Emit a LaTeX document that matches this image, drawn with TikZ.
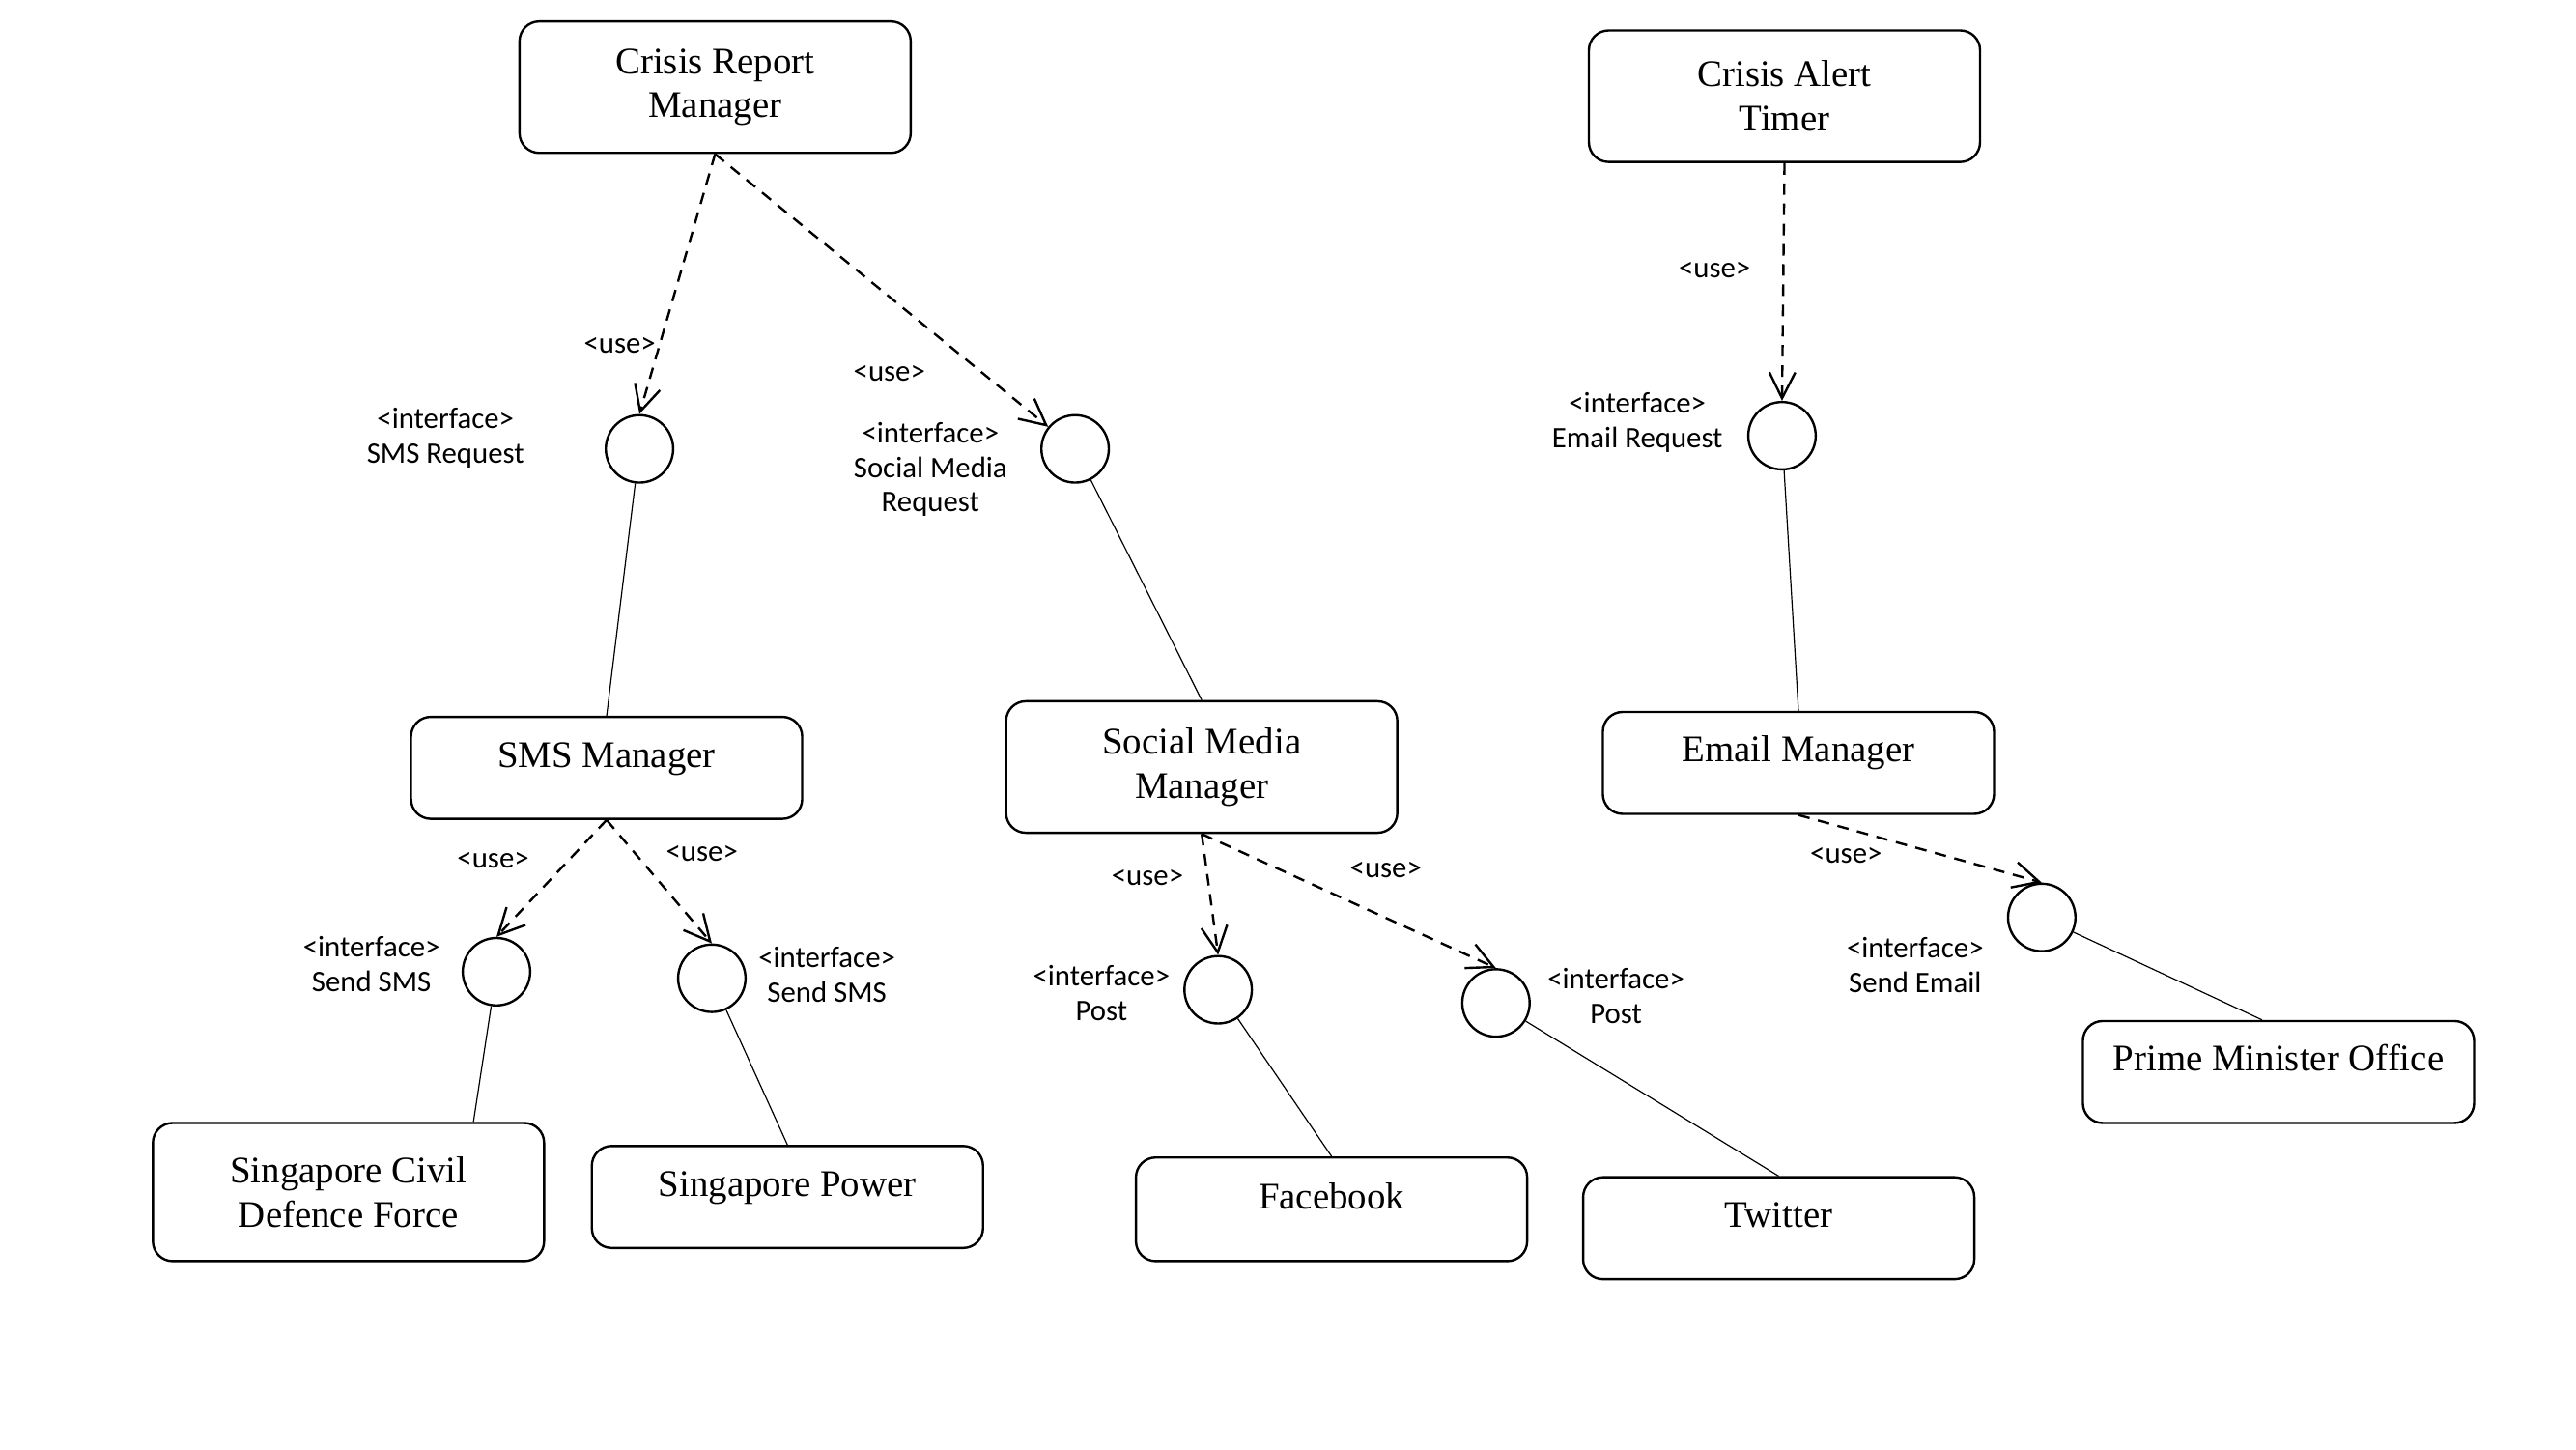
\documentclass[tikz,border=0pt]{standalone}
\usepackage{fontspec}
\setmainfont{Liberation Serif}
\newfontfamily\calfont{Carlito}
\usepackage{tikz}
\usetikzlibrary{arrows.meta,calc}

\begin{document}
\begin{tikzpicture}[x=0.02cm,y=-0.02cm,
    comp/.style={draw=black,line width=0.8pt,rounded corners=0.24cm,minimum width=4.76cm,align=center,font=\fontsize{13}{15.3}\selectfont},
    twoline/.style={comp,minimum height=1.6cm},
    oneline/.style={comp,minimum height=1.24cm,text height=9pt,text depth=9.5pt},
    iface/.style={draw=black,line width=0.8pt,circle,minimum size=0.82cm,inner sep=0pt},
    note/.style={align=center,inner sep=0pt,font=\calfont\fontsize{10.3}{12}\selectfont},
    usearrow/.style={-{Straight Barb[length=9pt,width=9pt]},dash pattern=on 4pt off 3pt,line width=0.8pt},
    conn/.style={line width=0.4pt}]
    \useasboundingbox (0,0) rectangle (1567,881.5);

    % components
    \node[twoline] (CRM) at (435,53) {Crisis Report\\Manager};
    \node[twoline] (CAT) at (1085.5,58.5) {Crisis Alert\\Timer};
    \node[oneline] (SMS) at (369,467) {SMS Manager};
    \node[twoline] (SMM) at (731,466.5) {Social Media\\Manager};
    \node[oneline] (EM) at (1094,464) {Email Manager};
    \node[comp,minimum height=1.68cm] (SCDF) at (212,725) {Singapore Civil\\Defence Force};
    \node[oneline] (SP) at (479,728) {Singapore Power};
    \node[oneline,minimum height=1.26cm] (FB) at (810,735.5) {Facebook};
    \node[oneline] (TW) at (1082,747) {Twitter};
    \node[oneline] (PMO) at (1386,652) {Prime Minister Office};

    % interfaces
    \node[iface] (I1) at (389,273) {};
    \node[iface] (I2) at (654,273) {};
    \node[iface] (I3) at (1084,265) {};
    \node[iface] (I4) at (302,591) {};
    \node[iface] (I5) at (433,595) {};
    \node[iface] (I6) at (741,602) {};
    \node[iface] (I7) at (910,610) {};
    \node[iface] (I8) at (1242,558) {};

    \node[note] (N1) at (271,266.5) {<interface>\\SMS Request};
    \node[note] (N2) at (566,285.5) {<interface>\\Social Media\\Request};
    \node[note] (N3) at (996,257) {<interface>\\Email Request};
    \node[note] (N4) at (226,586.5) {<interface>\\Send SMS};
    \node[note] (N5) at (503,593) {<interface>\\Send SMS};
    \node[note] (N6) at (670,604) {<interface>\\Post};
    \node[note] (N7) at (983,606) {<interface>\\Post};
    \node[note] (N8) at (1165,587) {<interface>\\Send Email};

    \node[note] (U1) at (377,210) {<use>};
    \node[note] (U2) at (541,227) {<use>};
    \node[note] (U3) at (1043,164) {<use>};
    \node[note] (U4) at (300,523) {<use>};
    \node[note] (U5) at (427,519) {<use>};
    \node[note] (U6) at (698,534) {<use>};
    \node[note] (U7) at (843,529) {<use>};
    \node[note] (U8) at (1123,520) {<use>};

    % dependencies
    \path [usearrow] (CRM.south) edge (I1.north);
    \path [usearrow] (CRM.south) edge (I2);
    \path [usearrow] (CAT.south) edge (I3.north);
    \path [usearrow] (SMS.south) edge (I4.north);
    \path [usearrow] (SMS.south) edge (I5.north);
    \path [usearrow] (SMM.south) edge (I6.north);
    \path [usearrow] (SMM.south) edge (I7.north);
    \path [usearrow] (EM.south) edge (I8.north);

    % realisations
    \path [conn] (I1) edge (SMS.north);
    \path [conn] (I2) edge (SMM.north);
    \path [conn] (I3) edge (EM.north);
    \path [conn] (I4) edge ($(SCDF.north)+(76,0)$);
    \path [conn] (I5) edge (SP.north);
    \path [conn] (I6) edge (FB.north);
    \path [conn] (I7) edge (TW.north);
    \path [conn] (I8) edge ($(PMO.north)+(-10,0)$);
\end{tikzpicture}
\end{document}
